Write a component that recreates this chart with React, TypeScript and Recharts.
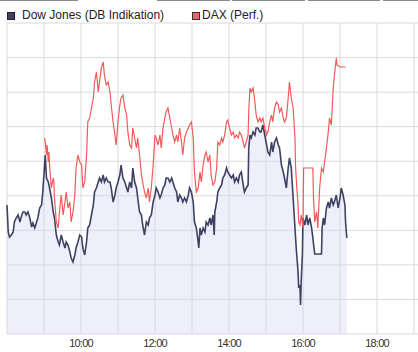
import { ComposedChart, Line, Area, XAxis, YAxis, CartesianGrid } from "recharts";

// minutes since midnight, values are chart heights (no y labels in the source)
const dowName = "Dow Jones (DB Indikation)";
const daxName = "DAX (Perf.)";

const dowTimes = [
  480, 482, 484, 487, 490, 492, 495, 498, 501, 503, 506, 509, 511, 514, 517, 520, 522, 525, 528, 530,
  533, 536, 538, 541, 542, 544, 547, 549, 552, 555, 557, 560, 563, 565, 568, 571, 574, 576, 579, 582,
  584, 587, 590, 592, 595, 598, 601, 603, 606, 609, 611, 614, 617, 620, 622, 625, 628, 630, 633, 636,
  638, 641, 644, 647, 649, 652, 655, 657, 660, 663, 665, 668, 671, 674, 676, 679, 682, 684, 687, 690,
  692, 695, 698, 700, 703, 706, 709, 711, 714, 717, 720, 722, 725, 728, 730, 733, 736, 738, 741, 744,
  747, 749, 752, 755, 757, 760, 763, 765, 768, 771, 774, 776, 779, 782, 784, 787, 790, 791, 793, 795,
  798, 801, 803, 806, 809, 811, 814, 816, 817, 820, 822, 825, 828, 830, 833, 836, 838, 841, 844, 847,
  849, 852, 855, 857, 860, 863, 865, 868, 871, 872, 874, 876, 879, 882, 884, 887, 890, 892, 895, 898,
  901, 903, 906, 909, 911, 914, 917, 920, 922, 925, 928, 930, 933, 936, 938, 941, 944, 947, 949, 952,
  953, 955, 956, 957, 959, 960, 963, 966, 968, 971, 974, 976, 979, 990, 991, 993, 995, 998, 1001, 1003,
  1006, 1009, 1011, 1014, 1017, 1020, 1022, 1025, 1028, 1029, 1031,
];
const dowValues = [
  129, 102, 97, 99, 102, 112, 116, 119, 112, 117, 122, 122, 119, 122, 116, 107, 111, 106, 112, 116,
  126, 129, 142, 169, 179, 156, 152, 146, 136, 122, 116, 99, 92, 89, 99, 92, 86, 92, 89, 82,
  76, 72, 79, 86, 92, 99, 97, 86, 79, 92, 106, 109, 119, 129, 142, 146, 152, 156, 152, 159,
  152, 156, 152, 152, 146, 132, 139, 146, 152, 159, 169, 156, 152, 146, 142, 152, 146, 166, 152, 146,
  136, 122, 119, 109, 99, 112, 109, 116, 119, 132, 139, 146, 142, 136, 139, 146, 149, 156, 156, 152,
  156, 152, 146, 142, 132, 139, 136, 132, 136, 132, 139, 146, 142, 132, 112, 106, 92, 86, 106, 99,
  106, 102, 112, 109, 116, 109, 119, 99, 122, 132, 142, 146, 149, 156, 159, 166, 162, 159, 156, 159,
  152, 156, 152, 159, 162, 149, 142, 146, 149, 186, 199, 196, 202, 199, 206, 206, 202, 202, 209, 199,
  189, 182, 179, 192, 182, 192, 196, 189, 186, 169, 162, 156, 146, 166, 176, 166, 136, 106, 86, 62,
  46, 49, 29, 52, 79, 116, 109, 119, 109, 116, 106, 96, 80, 80, 106, 116, 109, 126, 132, 126,
  136, 129, 132, 139, 126, 136, 146, 139, 129, 112, 96,
];

const daxTimes = [
  541, 542, 544, 545, 547, 548, 549, 552, 555, 556, 557, 560, 563, 565, 568, 571, 574, 576, 579, 582,
  584, 587, 590, 592, 595, 598, 601, 603, 606, 609, 611, 614, 617, 620, 622, 625, 628, 630, 633, 636,
  638, 641, 644, 647, 649, 652, 655, 657, 660, 663, 665, 668, 671, 674, 676, 679, 682, 684, 687, 690,
  692, 695, 698, 700, 703, 706, 709, 711, 714, 717, 720, 722, 725, 728, 730, 733, 736, 738, 741, 744,
  747, 749, 752, 755, 757, 760, 763, 765, 768, 771, 774, 776, 779, 782, 784, 787, 790, 793, 795, 798,
  801, 803, 806, 809, 811, 814, 817, 820, 822, 825, 828, 830, 833, 836, 838, 841, 844, 847, 849, 852,
  855, 857, 860, 863, 865, 868, 871, 872, 874, 876, 879, 882, 884, 887, 890, 892, 895, 898, 901, 903,
  906, 909, 911, 914, 917, 920, 922, 925, 928, 930, 933, 936, 938, 941, 944, 947, 948, 950, 952, 953,
  955, 957, 960, 961, 976, 977, 979, 982, 984, 987, 990, 993, 995, 998, 1001, 1003, 1006, 1009, 1011, 1014,
  1015, 1020, 1029,
];
const daxValues = [
  196, 192, 179, 189, 172, 182, 169, 146, 156, 152, 136, 112, 106, 122, 139, 119, 132, 142, 126, 132,
  112, 122, 139, 166, 179, 172, 169, 146, 152, 179, 212, 216, 226, 236, 252, 262, 242, 252, 266, 272,
  259, 249, 252, 242, 229, 212, 199, 189, 212, 229, 236, 239, 226, 219, 202, 189, 186, 206, 196, 186,
  196, 179, 159, 152, 142, 136, 146, 132, 146, 169, 199, 196, 189, 199, 186, 206, 216, 222, 226, 216,
  206, 199, 192, 199, 192, 206, 192, 179, 196, 202, 206, 209, 212, 196, 162, 142, 146, 162, 152, 169,
  179, 182, 172, 179, 159, 149, 152, 166, 192, 189, 196, 192, 199, 212, 214, 206, 199, 202, 196, 199,
  196, 202, 199, 192, 186, 192, 199, 222, 246, 242, 246, 232, 219, 212, 216, 212, 216, 206, 199, 202,
  212, 219, 212, 226, 232, 229, 222, 226, 216, 212, 216, 236, 252, 236, 226, 196, 166, 146, 129, 112,
  109, 119, 106, 166, 166, 136, 112, 122, 106, 146, 166, 162, 172, 186, 202, 216, 209, 246, 259, 276,
  269, 267, 267,
];

const hourTicks = [480, 540, 600, 660, 720, 780, 840, 900, 960, 1020, 1080, 1140, 1200];

const dowColor = "#3d4262";
const daxColor = "#f25a5a";

function buildRows() {
  const rows: { [t: number]: { t: number; dow: number | null; dax: number | null } } = {};
  dowTimes.forEach((t, i) => {
    rows[t] = rows[t] ?? { t, dow: null, dax: null };
    rows[t].dow = dowValues[i];
  });
  daxTimes.forEach((t, i) => {
    rows[t] = rows[t] ?? { t, dow: null, dax: null };
    rows[t].dax = daxValues[i];
  });
  return Object.values(rows).sort((a, b) => a.t - b.t);
}

const formatTick = (t: number) => {
  const h = t / 60;
  if (h % 2 === 0 && h >= 10 && h <= 18) return `${h}:00`;
  return "";
};

const font = "'Liberation Sans', Arial, sans-serif";

export default function App() {
  const data = buildRows();
  const yTicks = Array.from({ length: 10 }, (_, i) => (i * 311) / 9);

  return (
    <div
      style={{
        position: "fixed",
        left: 0,
        top: 0,
        width: 418,
        height: 352,
        overflow: "hidden",
        background: "#fff",
        fontFamily: font,
      }}
    >
      {/* tab strip at the top */}
      {[
        [0, 78],
        [157, 230],
        [232, 305],
        [308, 380],
        [383, 418],
      ].map(([a, b]) => (
        <div
          key={a}
          style={{ position: "absolute", left: a, top: 0, width: b - a, height: 1, background: "#8a8a8a" }}
        />
      ))}

      {/* legend */}
      <div style={{ position: "absolute", left: 7, top: 12, width: 6, height: 6, background: dowColor, border: "1px solid #222" }} />
      <div style={{ position: "absolute", left: 22, top: 8, fontSize: 12, color: "#222", lineHeight: "14px" }}>{dowName}</div>
      <div style={{ position: "absolute", left: 192, top: 12, width: 6, height: 6, background: "#f06464", border: "1px solid #333" }} />
      <div style={{ position: "absolute", left: 202, top: 8, fontSize: 12, color: "#222", lineHeight: "14px" }}>{daxName}</div>

      <div style={{ position: "absolute", left: 0, top: 0 }}>
        <ComposedChart width={452} height={352} data={data} margin={{ top: 23, right: 1, left: 7, bottom: 0 }}>
          <CartesianGrid stroke="#dadada" />
          <XAxis
            dataKey="t"
            type="number"
            domain={[480, 1200]}
            ticks={hourTicks}
            interval={0}
            tickFormatter={formatTick}
            axisLine={false}
            tickLine={false}
            tickSize={0}
            tickMargin={5}
            height={18}
            tick={{ fontSize: 11, fill: "#333", fontFamily: font, letterSpacing: -0.8 }}
          />
          <YAxis hide domain={[0, 311]} ticks={yTicks} />
          <Line
            type="linear"
            dataKey="dax"
            stroke={daxColor}
            strokeWidth={1.2}
            dot={false}
            connectNulls
            isAnimationActive={false}
          />
          <Area
            type="linear"
            dataKey="dow"
            stroke={dowColor}
            strokeWidth={1.6}
            fill="#d4d4f4"
            fillOpacity={0.38}
            dot={false}
            connectNulls
            isAnimationActive={false}
          />
        </ComposedChart>
      </div>
    </div>
  );
}
